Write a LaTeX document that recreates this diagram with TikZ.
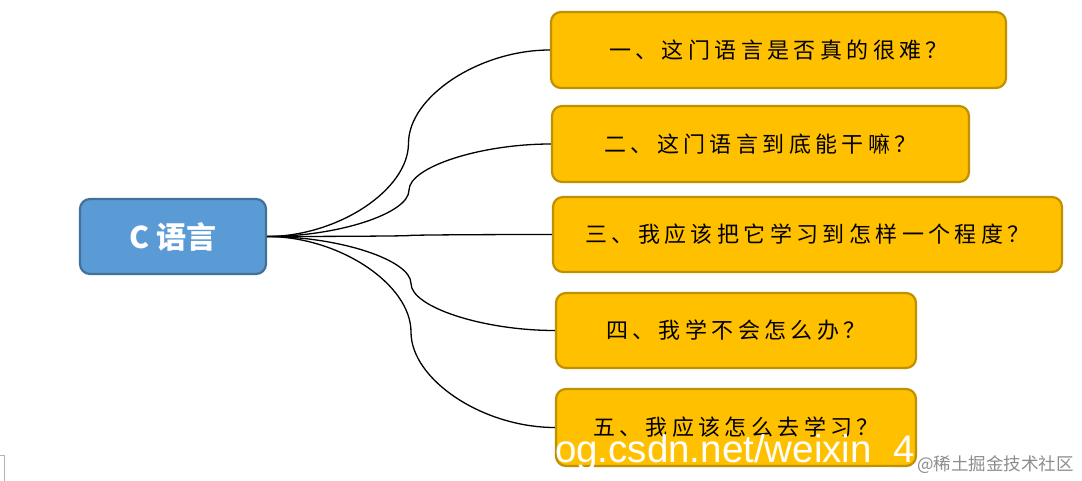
\documentclass[tikz,border=0pt]{standalone}
\usepackage{fontspec}
\usetikzlibrary{calc}
\newfontfamily\cjk{Noto Sans CJK SC}
\newfontfamily\cjkls[LetterSpace=20]{Noto Sans CJK SC}
\newfontfamily\wmfont{Liberation Sans}
\definecolor{cblue}{HTML}{5B9BD5}
\definecolor{cblueb}{HTML}{41719C}
\definecolor{corange}{HTML}{FFC000}
\definecolor{corangeb}{HTML}{BF9000}
\tikzset{
  rootbox/.style={draw=cblueb, fill=cblue, line width=2.2pt, rounded corners=10pt,
    inner sep=0pt, text=white, font=\cjk\bfseries\fontsize{30}{32}\selectfont},
  qbox/.style={draw=corangeb, fill=corange, line width=2.2pt, rounded corners=10pt,
    inner sep=0pt, text=black, font=\cjkls\fontsize{22}{24}\selectfont},
  conn/.style={draw=black, line width=1.3pt},
}
\newcommand{\curveconn}[2]{%
  \draw[conn] let \p1=(#1.east), \p2=(#2.west) in
    (\p1) .. controls ({(\x1+(\x1+\x2)/2)/2},\y1) and ({(\x1+\x2)/2},{\y1+(\y2-\y1)/4})
    .. ({(\x1+\x2)/2},{(\y1+\y2)/2})
    .. controls ({(\x1+\x2)/2},{\y1+3*(\y2-\y1)/4}) and ({((\x1+\x2)/2+\x2)/2},\y2)
    .. (\p2);}
\begin{document}
\begin{tikzpicture}[x=1pt,y=-1pt]
\useasboundingbox (0,0) rectangle (1082,481);
\fill[white] (0,0) rectangle (1082,481);
\node[rootbox, minimum width=186pt, minimum height=75pt] (c) at (173,236.5) {C 语言};
\node[qbox, minimum width=455pt, minimum height=76pt] (q1) at (778.5,50) {一、这门语言是否真的很难？};
\node[qbox, minimum width=417pt, minimum height=76pt] (q2) at (760.5,144) {二、这门语言到底能干嘛？};
\node[qbox, minimum width=509pt, minimum height=75pt] (q3) at (807.5,234.5) {三、我应该把它学习到怎样一个程度？};
\node[qbox, minimum width=360pt, minimum height=75pt] (q4) at (736,330.5) {四、我学不会怎么办？};
\node[qbox, minimum width=360pt, minimum height=77pt] (q5) at (736,427.5) {五、我应该怎么去学习？};
\curveconn{c}{q1}
\curveconn{c}{q2}
\curveconn{c}{q3}
\curveconn{c}{q4}
\curveconn{c}{q5}
\node[anchor=base west, inner sep=0pt, text=white, font=\wmfont\fontsize{38.5}{40}\selectfont] (wm1) at (525,462) {blog.csdn.net/weixin\_4};
\node[anchor=west, inner sep=0pt, text=black!45, font=\cjk\fontsize{17.5}{19}\selectfont] (wm2) at (917,465) {@稀土掘金技术社区};
\draw[black!30, line width=0.6pt] (0,455) -- (4.5,455) -- (4.5,481);
\end{tikzpicture}
\end{document}
